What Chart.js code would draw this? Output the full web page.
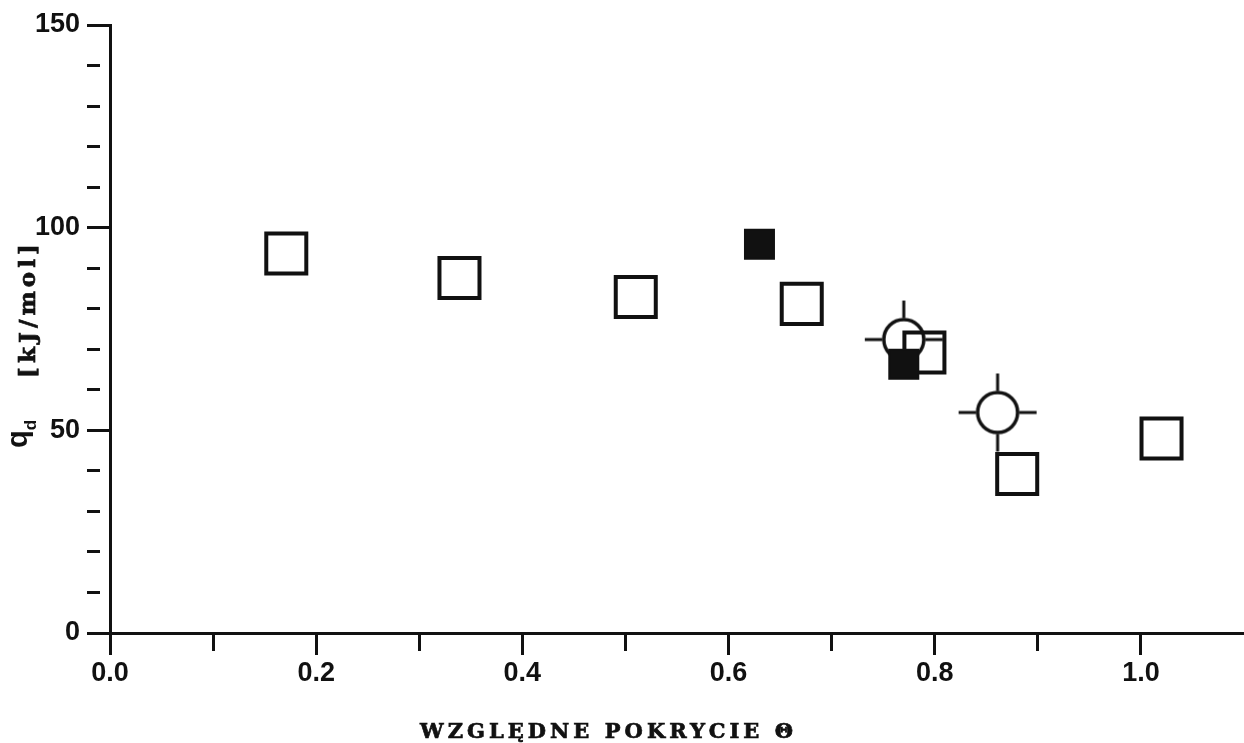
<!DOCTYPE html>
<html>
<head>
<meta charset="utf-8">
<script src="https://cdn.jsdelivr.net/npm/chart.js@4/dist/chart.umd.min.js"></script>
<style>
  html, body { margin: 0; padding: 0; background: #fff; }
  #wrap { width: 1244px; height: 743px; position: relative; }
</style>
</head>
<body>
<div id="wrap"><canvas id="chart"></canvas></div>
<script>
// Relative coverage (x) and desorption heat q_d in kJ/mol (y)
const openCoverage   = [0.171, 0.339, 0.510, 0.671, 0.790, 0.880, 1.020];
const openHeat       = [93.6, 87.6, 82.9, 81.2, 69.2, 39.2, 48.0];
const filledCoverage = [0.630, 0.770];
const filledHeat     = [95.9, 66.3];
const circleCoverage = [0.770, 0.861];
const circleHeat     = [72.4, 54.4];

// Labelled tick values (the other ticks are unlabelled minor ticks)
const xLabeledTicks = [0.0, 0.2, 0.4, 0.6, 0.8, 1.0];
const yLabeledTicks = [0, 50, 100, 150];

const xTitle = 'WZGLĘDNE POKRYCIE Θ';
const yTitleSymbol = 'q';
const yTitleSub = 'd';
const yTitleUnit = '[kJ/mol]';

const INK = '#111';

function toPoints(xs, ys) {
  return xs.map((x, i) => ({ x: x, y: ys[i] }));
}

function isXLabeled(v) {
  return xLabeledTicks.some(t => Math.abs(t - v) < 1e-6);
}
function isYLabeled(v) {
  return yLabeledTicks.some(t => Math.abs(t - v) < 1e-6);
}

// Open circle with short cross-hair arms outside the ring
function crossCircleMarker() {
  const c = document.createElement('canvas');
  c.width = 84; c.height = 84;
  const g = c.getContext('2d');
  g.strokeStyle = INK;
  g.lineWidth = 3.5;
  g.beginPath();
  g.arc(42, 42, 20, 0, Math.PI * 2);
  g.stroke();
  g.lineWidth = 3;
  g.beginPath();
  [[1, 0], [-1, 0], [0, 1], [0, -1]].forEach(([dx, dy]) => {
    g.moveTo(42 + dx * 21.5, 42 + dy * 21.5);
    g.lineTo(42 + dx * 39, 42 + dy * 39);
  });
  g.stroke();
  return c;
}

// Heavy serif text spread so that it spans a given width
function spreadText(ctx, text, x, y, width) {
  ctx.letterSpacing = '0px';
  const w0 = ctx.measureText(text).width;
  const n = [...text].length;
  const gap = n > 1 ? (width - w0) / (n - 1) : 0;
  ctx.letterSpacing = gap + 'px';
  ctx.lineWidth = 0.7;
  ctx.strokeStyle = INK;
  ctx.fillText(text, x, y);
  ctx.strokeText(text, x, y);
  ctx.letterSpacing = '0px';
}

// Axis titles: x title with wide letter spacing, y title with subscript
const axisTitles = {
  id: 'axisTitles',
  afterDraw(chart) {
    const ctx = chart.ctx;
    ctx.save();
    ctx.fillStyle = INK;
    ctx.textBaseline = 'alphabetic';
    ctx.textAlign = 'left';

    ctx.font = 'bold 21px "DejaVu Serif"';
    spreadText(ctx, xTitle, 420, 738, 373);

    ctx.translate(27, 448);
    ctx.rotate(-Math.PI / 2);
    ctx.font = 'bold 29px "Liberation Sans"';
    ctx.fillText(yTitleSymbol, 0, 0);
    const wq = ctx.measureText(yTitleSymbol).width;
    ctx.font = 'bold 17px "Liberation Sans"';
    ctx.fillText(yTitleSub, wq, 9);
    ctx.font = 'bold 23px "DejaVu Serif"';
    spreadText(ctx, yTitleUnit, 70, 8, 134);
    ctx.restore();
  }
};

const tickFont = { family: '"Liberation Sans", Arial, sans-serif', weight: 'bold', size: 27 };

new Chart(document.getElementById('chart'), {
  type: 'scatter',
  data: {
    datasets: [
      {
        label: 'filled',
        data: toPoints(filledCoverage, filledHeat),
        pointStyle: 'rect',
        pointRadius: 20.5,
        backgroundColor: INK,
        borderColor: INK,
        borderWidth: 2
      },
      {
        label: 'open',
        data: toPoints(openCoverage, openHeat),
        pointStyle: 'rect',
        pointRadius: 28.3,
        backgroundColor: 'rgba(0,0,0,0)',
        borderColor: INK,
        borderWidth: 4
      },
      {
        label: 'circle',
        data: toPoints(circleCoverage, circleHeat),
        pointStyle: crossCircleMarker(),
        pointRadius: 40
      }
    ]
  },
  options: {
    responsive: true,
    maintainAspectRatio: false,
    animation: false,
    layout: { autoPadding: false, padding: { top: 25, right: 0, bottom: 0, left: 0 } },
    plugins: {
      legend: { display: false },
      tooltip: { enabled: false }
    },
    scales: {
      x: {
        type: 'linear',
        min: 0,
        max: 1.1,
        afterFit(scale) {
          scale.height = 110;
          scale.paddingLeft = 0;
          scale.paddingRight = 0;
        },
        border: { display: true, width: 3, color: INK },
        grid: {
          drawOnChartArea: false,
          drawTicks: true,
          tickLength: 22,
          tickWidth: 3,
          tickColor: ctx => (ctx.tick && ctx.tick.value > 1.05) ? 'rgba(0,0,0,0)' : INK,
          tickBorderDash: ctx => (ctx.tick && isXLabeled(ctx.tick.value)) ? [] : [16, 200]
        },
        ticks: {
          stepSize: 0.1,
          autoSkip: false,
          maxRotation: 0,
          padding: 2,
          color: INK,
          font: tickFont,
          callback: v => isXLabeled(v) ? Number(v).toFixed(1) : ''
        }
      },
      y: {
        type: 'linear',
        min: 0,
        max: 150,
        afterFit(scale) {
          scale.width = 110;
          scale.paddingTop = 0;
          scale.paddingBottom = 0;
        },
        border: { display: true, width: 3, color: INK },
        grid: {
          drawOnChartArea: false,
          drawTicks: true,
          tickLength: 23,
          tickWidth: 3,
          tickColor: INK,
          tickBorderDash: ctx => (ctx.tick && isYLabeled(ctx.tick.value)) ? [] : [13, 200]
        },
        ticks: {
          stepSize: 10,
          autoSkip: false,
          padding: 7,
          color: INK,
          font: tickFont,
          callback: v => isYLabeled(v) ? String(v) : ''
        }
      }
    }
  },
  plugins: [axisTitles]
});
</script>
</body>
</html>
